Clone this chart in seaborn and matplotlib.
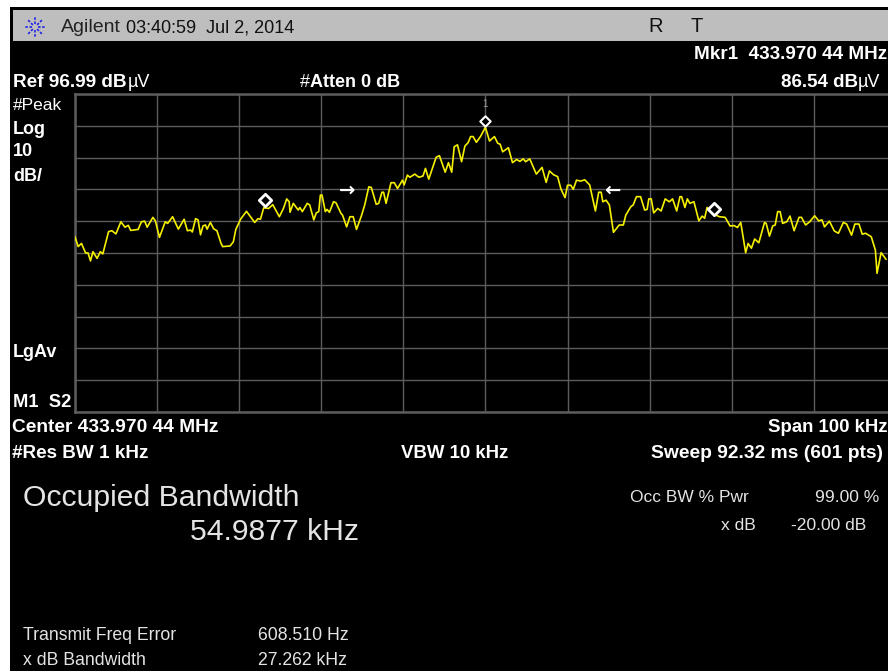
import numpy as np
import pandas as pd
import matplotlib
matplotlib.use("Agg")
import matplotlib.pyplot as plt
from matplotlib.patches import Rectangle
import seaborn as sns

# Trace: offset from center (kHz) and level (dBuV)
freq_khz = [
    -50.0, -49.6, -49.2, -48.7, -48.4, -48.1, -47.8, -47.3, -46.9, -46.6, -45.9, -45.5, -45.0, -44.4, -43.9,
    -43.5, -43.2, -42.3, -41.9, -41.5, -41.2, -40.5, -40.2, -39.7, -39.0, -38.7, -38.1, -37.4, -36.7, -36.3,
    -35.9, -35.7, -35.3, -35.0, -34.7, -34.4, -34.1, -33.9, -33.5, -33.1, -32.7, -32.2, -32.0, -31.1, -30.7,
    -30.4, -29.8, -29.1, -28.1, -27.7, -27.4, -27.0, -26.4, -25.9, -25.1, -24.6, -24.2, -23.9, -23.8, -23.4,
    -22.8, -22.6, -22.3, -21.7, -21.4, -20.9, -20.6, -20.3, -20.1, -19.9, -19.5, -19.3, -19.0, -18.5, -18.2,
    -17.6, -17.4, -16.9, -16.5, -16.1, -15.7, -15.1, -14.7, -14.2, -13.9, -13.3, -13.0, -12.6, -12.4, -12.1,
    -11.5, -11.1, -10.7, -10.1, -9.9, -9.5, -9.2, -8.6, -8.1, -7.6, -7.3, -6.9, -6.0, -5.6, -4.9,
    -4.5, -4.1, -3.8, -3.4, -2.9, -2.5, -2.1, -1.8, -1.5, -1.1, -0.6, 0.0, 0.5, 1.1, 1.5,
    1.8, 2.1, 2.8, 3.3, 3.8, 4.2, 4.6, 4.9, 5.4, 6.2, 6.9, 7.4, 7.8, 8.3, 8.8,
    9.2, 9.7, 10.0, 10.4, 10.7, 11.1, 11.6, 12.1, 12.7, 13.4, 13.8, 14.1, 14.3, 14.7, 15.1,
    15.6, 16.3, 16.8, 17.1, 17.7, 18.0, 18.4, 18.9, 19.4, 19.7, 19.9, 20.2, 20.5, 21.0, 21.4,
    21.9, 22.4, 22.8, 23.3, 23.7, 23.9, 24.3, 24.6, 24.9, 25.4, 26.0, 26.4, 26.7, 27.0, 27.6,
    28.5, 29.2, 29.8, 30.3, 30.7, 31.1, 31.7, 32.0, 32.4, 32.8, 33.3, 34.0, 34.2, 34.6, 35.0,
    35.3, 35.6, 35.9, 36.2, 36.7, 37.1, 37.6, 38.2, 38.5, 39.0, 39.5, 40.1, 40.6, 41.0, 41.3,
    41.9, 42.5, 43.0, 43.6, 44.0, 44.6, 45.0, 45.5, 45.9, 46.3, 47.0, 47.5, 47.7, 48.2, 48.8,
]
level_dbuv = [
    52.1, 49.0, 50.0, 47.0, 47.0, 44.5, 47.4, 45.3, 47.4, 46.7, 53.7, 54.0, 53.0, 56.8, 55.1,
    55.7, 54.1, 54.4, 56.8, 57.0, 55.1, 58.2, 57.1, 51.9, 56.8, 56.3, 58.4, 54.5, 57.6, 54.0,
    54.2, 53.6, 57.8, 57.4, 52.7, 55.5, 55.8, 54.5, 56.6, 54.6, 54.0, 50.0, 49.0, 49.2, 50.5,
    54.4, 57.7, 60.1, 56.6, 57.8, 57.6, 61.2, 61.0, 62.2, 58.4, 61.0, 64.0, 63.1, 59.8, 62.6,
    60.5, 61.3, 60.0, 62.6, 62.1, 57.4, 59.6, 60.0, 65.2, 65.2, 60.0, 60.7, 59.8, 63.1, 62.8,
    59.5, 58.9, 55.2, 58.4, 58.4, 54.4, 58.7, 62.1, 67.8, 67.6, 62.3, 62.6, 66.1, 66.1, 62.6,
    69.1, 69.1, 67.3, 69.9, 68.4, 71.5, 70.8, 71.8, 70.8, 71.2, 73.6, 70.2, 77.1, 77.6, 72.4,
    75.4, 72.4, 80.4, 81.0, 75.7, 80.6, 81.7, 83.6, 83.6, 81.8, 83.6, 86.54, 82.2, 83.6, 81.5,
    81.2, 78.8, 80.1, 75.4, 76.4, 75.8, 76.6, 75.7, 76.6, 71.8, 73.9, 69.2, 72.8, 71.6, 71.0,
    67.1, 64.4, 68.3, 68.3, 67.0, 69.9, 69.6, 70.0, 68.4, 60.2, 66.1, 66.1, 63.1, 63.6, 62.1,
    53.5, 55.8, 55.8, 58.9, 61.5, 62.1, 64.7, 64.7, 60.5, 60.7, 64.0, 64.0, 59.6, 61.0, 60.2,
    64.0, 63.1, 64.0, 60.2, 64.7, 64.7, 61.3, 64.0, 62.6, 63.1, 57.1, 58.6, 57.9, 61.3, 59.5,
    58.4, 58.2, 55.5, 55.6, 55.0, 56.6, 47.1, 50.0, 48.5, 51.4, 50.2, 56.6, 56.3, 52.3, 55.5,
    55.8, 60.0, 60.0, 56.3, 56.8, 58.6, 54.0, 58.2, 58.2, 55.8, 56.8, 58.7, 57.1, 57.4, 55.2,
    57.0, 53.9, 53.2, 56.6, 56.1, 52.6, 56.1, 56.1, 52.9, 53.2, 52.1, 47.9, 40.6, 47.1, 45.0,
]

# Markers (the peak sits just above the trace on screen)
marker_freq = [-26.9, 27.8]
marker_level = [63.5, 60.7]
peak_freq = [0.0]
peak_level = [88.5]
# Occupied bandwidth arrows
arrow_freq = [-16.8, 15.4]
arrow_level = [66.8, 66.8]
arrow_glyphs = ["\u2192", "\u2190"]

ref_level = 96.99
db_per_div = 10
span_khz = 100

W, H = 888, 671
GRID = "#5c5c5c"

sns.set_theme(style="dark", rc={"figure.facecolor": "black", "axes.facecolor": "black"})
plt.rcParams["font.family"] = ["Liberation Sans", "DejaVu Sans"]

fig = plt.figure(figsize=(W / 100, H / 100), dpi=100)

# Screen furniture in pixel coordinates
bg = fig.add_axes([0, 0, 1, 1], zorder=0)
bg.set_xlim(0, W)
bg.set_ylim(H, 0)
bg.axis("off")
bg.add_patch(Rectangle((0, 0), W, 7, color="white", lw=0))
bg.add_patch(Rectangle((0, 0), 10, H, color="white", lw=0))
bg.add_patch(Rectangle((13, 10), W, 31, color="#bebebe", lw=0))

# Agilent starburst
for ang in np.arange(0, 360, 45):
    c, s = np.cos(np.radians(ang)), np.sin(np.radians(ang))
    bg.plot([35 + 3 * c, 35 + 11 * c], [27 + 3 * s, 27 + 11 * s], color="#2020e8", lw=1.2, ls=(0, (1.5, 1)))


def label(x, y, txt, size=13, weight="bold", color="white", ha="left"):
    bg.text(x, y + 1.5, txt, fontsize=size, fontweight=weight, color=color, ha=ha, va="center")


# Header bar
label(61, 26, "Agilent", size=14, weight="normal", color="#222222")
label(126, 26.5, "03:40:59  Jul 2, 2014", size=13, weight="normal", color="#111111")
label(648, 25.5, "R", size=14.5, weight="normal", color="#111111")
label(690, 25.5, "T", size=14.5, weight="normal", color="#111111")

# Top readouts
label(887, 53, "Mkr1  433.970 44 MHz", size=13.6, ha="right")
label(13, 81, "Ref 96.99 dB", size=13.7)
label(128, 81, "\u00b5V", weight="normal")
label(300, 81, "#", weight="normal")
label(310, 81, "Atten 0 dB")
label(858, 81, "86.54 dB", size=13.5, ha="right")
label(858, 81, "\u00b5V", weight="normal")

# Left column
label(13, 104, "#Peak", size=12.5, weight="normal")
label(13, 128, "Log")
label(13, 150, "10")
label(13, 175, "dB/")
label(13, 351, "LgAv")
label(13, 401, "M1  S2", size=13.2)

# Bottom readouts
label(12, 426, "Center 433.970 44 MHz", size=13.8)
label(887, 426, "Span 100 kHz", size=13.4, ha="right")
label(12, 452, "#Res BW 1 kHz", size=13.6)
label(508, 452, "VBW 10 kHz", size=13.4, ha="right")
label(883, 452, "Sweep 92.32 ms (601 pts)", size=13.9, ha="right")

# Measurement results
LIGHT = "#e4e4e4"
label(23, 496, "Occupied Bandwidth", size=21.7, weight="normal", color=LIGHT)
label(190, 531, "54.9877 kHz", size=21.7, weight="normal", color=LIGHT)
label(630, 496, "Occ BW % Pwr", size=12.5, weight="normal", color=LIGHT)
label(879, 496, "99.00 %", size=12.6, weight="normal", color=LIGHT, ha="right")
label(756, 524, "x dB", size=12.6, weight="normal", color=LIGHT, ha="right")
label(866, 524, "-20.00 dB", size=12.6, weight="normal", color=LIGHT, ha="right")
label(23, 634, "Transmit Freq Error", size=12.7, weight="normal", color=LIGHT)
label(258, 634, "608.510 Hz", size=12.7, weight="normal", color=LIGHT)
label(23, 659, "x dB Bandwidth", size=12.7, weight="normal", color=LIGHT)
label(258, 659, "27.262 kHz", size=12.7, weight="normal", color=LIGHT)

# Spectrum graticule
ax = fig.add_axes([74.9 / W, 1 - 412 / H, 821 / W, 318 / H], zorder=1)
ax.set_facecolor("none")
ax.set_xlim(-span_khz / 2, span_khz / 2)
ax.set_ylim(ref_level - 10 * db_per_div, ref_level)
ax.set_xticks(np.arange(-50, 51, 10))
ax.set_yticks(ref_level - db_per_div * np.arange(0, 11))
ax.tick_params(length=0, labelbottom=False, labelleft=False)
ax.grid(True, color=GRID, lw=1.0)
ax.set_axisbelow(True)
for side in ["left", "bottom", "top"]:
    ax.spines[side].set_visible(True)
    ax.spines[side].set_color(GRID)
    ax.spines[side].set_linewidth(1.8)

trace = pd.DataFrame({"freq": freq_khz, "level": level_dbuv})
sns.lineplot(data=trace, x="freq", y="level", color="#f5f000", lw=1.2, estimator=None, sort=False,
             solid_joinstyle="round", ax=ax, zorder=3)

sns.scatterplot(x=marker_freq, y=marker_level, marker="D", s=40, color="black", edgecolor="white", linewidth=2.0, ax=ax, zorder=4)
sns.scatterplot(x=peak_freq, y=peak_level, marker="D", s=28, color="black", edgecolor="white", linewidth=1.5, ax=ax, zorder=4)
ax.text(peak_freq[0], peak_level[0] + 5.3, "1", color="#9a9a9a", fontsize=7, ha="center", va="center")
for f, l, g in zip(arrow_freq, arrow_level, arrow_glyphs):
    ax.text(f, l, g, color="white", fontsize=14, fontweight="bold", family="DejaVu Sans", ha="center", va="center", zorder=4)

ax.set_xlabel("")
ax.set_ylabel("")

fig.savefig("out.png", dpi=100, facecolor="black")
